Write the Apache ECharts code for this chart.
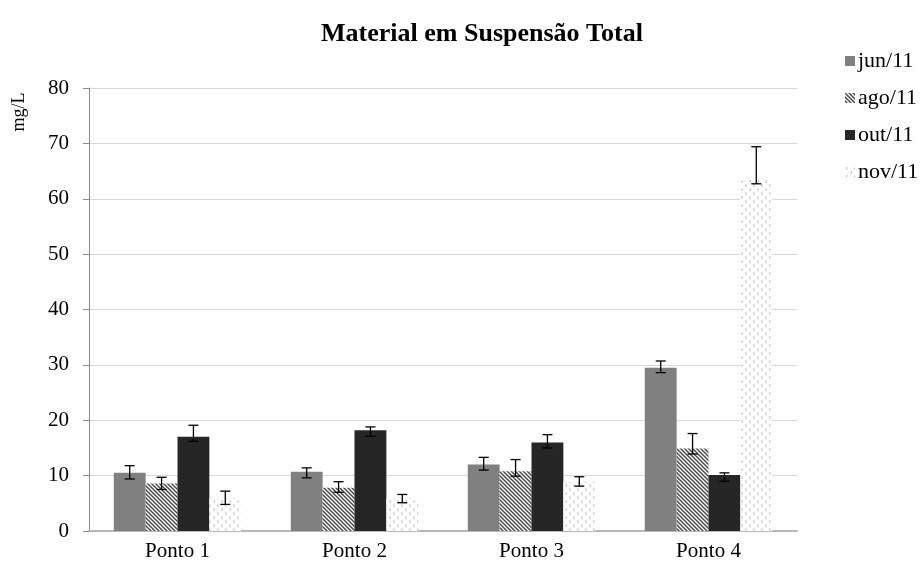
<!DOCTYPE html>
<html>
<head>
<meta charset="utf-8">
<script src="https://cdn.jsdelivr.net/npm/echarts@6/dist/echarts.min.js"></script>
<style>
html,body{margin:0;padding:0;background:#fff;}
#chart{width:922px;height:565px;}
</style>
</head>
<body>
<div id="chart"></div>
<script>
const categories = ['Ponto 1', 'Ponto 2', 'Ponto 3', 'Ponto 4'];
const seriesNames = ['jun/11', 'ago/11', 'out/11', 'nov/11'];
const jun = [10.5, 10.7, 12.0, 29.5];
const ago = [8.6, 7.8, 10.8, 14.9];
const out = [17.0, 18.2, 16.0, 10.1];
const nov = [5.9, 5.9, 8.9, 63.5];
const junLow = [9.4, 9.6, 11.0, 28.6];
const junHigh = [11.8, 11.4, 13.3, 30.7];
const agoLow = [7.5, 7.0, 9.9, 13.9];
const agoHigh = [9.7, 8.9, 12.9, 17.6];
const outLow = [16.2, 17.1, 15.0, 9.0];
const outHigh = [19.1, 18.8, 17.4, 10.5];
const novLow = [4.8, 5.1, 8.1, 62.7];
const novHigh = [7.2, 6.6, 9.8, 69.4];
const yTicks = [0, 10, 20, 30, 40, 50, 60, 70, 80];

const values = [jun, ago, out, nov];
const lows = [junLow, agoLow, outLow, novLow];
const highs = [junHigh, agoHigh, outHigh, novHigh];

function stripePattern() {
  const c = document.createElement('canvas');
  c.width = 4; c.height = 4;
  const g = c.getContext('2d');
  g.fillStyle = '#ffffff'; g.fillRect(0, 0, 4, 4);
  g.strokeStyle = '#4a4a4a'; g.lineWidth = 1.5;
  g.beginPath();
  g.moveTo(-1, -1); g.lineTo(5, 5);
  g.moveTo(-1, 3); g.lineTo(1, 5);
  g.moveTo(3, -1); g.lineTo(5, 1);
  g.stroke();
  return c;
}
function dotPattern() {
  const c = document.createElement('canvas');
  c.width = 8; c.height = 8;
  const g = c.getContext('2d');
  g.fillStyle = '#ffffff'; g.fillRect(0, 0, 8, 8);
  g.strokeStyle = '#a8a8a8'; g.lineWidth = 0.9;
  g.beginPath();
  g.moveTo(2.5, 0.5); g.lineTo(1, 1.5); g.lineTo(2.5, 2.5);
  g.moveTo(5.5, 4.5); g.lineTo(7, 5.5); g.lineTo(5.5, 6.5);
  g.stroke();
  return c;
}

const colors = [
  '#808080',
  { image: stripePattern(), repeat: 'repeat' },
  '#262626',
  { image: dotPattern(), repeat: 'repeat' }
];

const GAP = 0.28;
const font = 'Liberation Serif';

const barSeries = seriesNames.map((n, i) => ({
  name: n,
  type: 'bar',
  data: values[i],
  barGap: '0%',
  barCategoryGap: '28%',
  itemStyle: { color: colors[i] },
  emphasis: { disabled: true }
}));

const errSeries = seriesNames.map((n, i) => ({
  type: 'custom',
  name: n + '_err',
  data: categories.map((c, k) => [k, lows[i][k], highs[i][k]]),
  z: 10,
  silent: true,
  renderItem: function (params, api) {
    const k = api.value(0);
    const lo = api.coord([k, api.value(1)]);
    const hi = api.coord([k, api.value(2)]);
    const band = api.size([1, 0])[0];
    const bw = band * (1 - GAP) / 4;
    const x = lo[0] - 2 * bw + (i + 0.5) * bw;
    const cap = 5;
    const st = { stroke: '#000', lineWidth: 1.3 };
    return {
      type: 'group',
      children: [
        { type: 'line', shape: { x1: x, y1: lo[1], x2: x, y2: hi[1] }, style: st },
        { type: 'line', shape: { x1: x - cap, y1: lo[1], x2: x + cap, y2: lo[1] }, style: st },
        { type: 'line', shape: { x1: x - cap, y1: hi[1], x2: x + cap, y2: hi[1] }, style: st }
      ]
    };
  }
}));

const chart = echarts.init(document.getElementById('chart'), null, { renderer: 'canvas' });
chart.setOption({
  animation: false,
  backgroundColor: '#ffffff',
  title: {
    text: 'Material em Suspensão Total',
    left: 477, textAlign: 'center', top: 16,
    textStyle: { fontFamily: font, fontWeight: 'bold', fontSize: 26, color: '#000' }
  },
  legend: {
    data: seriesNames,
    orient: 'vertical',
    left: 845, top: 50, padding: 0,
    itemWidth: 10, itemHeight: 10, itemGap: 15,
    icon: 'rect',
    textStyle: { fontFamily: font, fontSize: 22, color: '#000', padding: [0, 0, 0, -2] }
  },
  grid: { left: 89, right: 125, top: 88, bottom: 34, containLabel: false },
  xAxis: {
    type: 'category',
    data: categories,
    axisLine: { lineStyle: { color: '#b8b8b8', width: 2 } },
    axisTick: { show: false },
    axisLabel: { fontFamily: font, fontSize: 21, color: '#000', margin: 10 }
  },
  yAxis: {
    type: 'value',
    min: yTicks[0], max: yTicks[yTicks.length - 1], interval: 10,
    axisLine: { show: true, lineStyle: { color: '#8c8c8c' } },
    axisTick: { show: true, length: 6, lineStyle: { color: '#8c8c8c' } },
    splitLine: { lineStyle: { color: '#d9d9d9' } },
    axisLabel: { fontFamily: font, fontSize: 21, color: '#000', margin: 20 }
  },
  graphic: [{
    type: 'text',
    x: 19, y: 112,
    rotation: Math.PI / 2,
    style: { text: 'mg/L', font: '18px "Liberation Serif"', fill: '#000', textAlign: 'center', textVerticalAlign: 'middle' }
  }],
  series: barSeries.concat(errSeries)
});
</script>
</body>
</html>
